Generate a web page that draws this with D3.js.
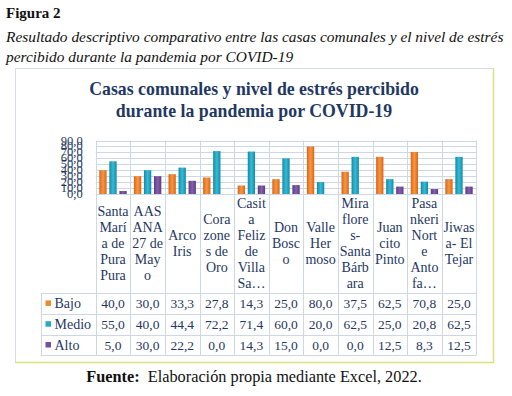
<!DOCTYPE html>
<html>
<head>
<meta charset="utf-8">
<script src="https://cdn.jsdelivr.net/npm/d3@7"></script>
<style>
  body { margin: 0; background: #fff; }
  svg { display: block; }
</style>
</head>
<body>
<div id="chart"></div>
<script>
// ---- data ----
const categories = ['Santa María de Pura Pura', 'AASANA 27 de Mayo', 'Arco Iris', 'Corazones de Oro',
    'Casita Feliz de Villa Sa…', 'Don Bosco', 'Valle Hermoso', 'Miraflores-Santa Bárbara',
    'Juancito Pinto', 'Pasankeri Norte Antofa…', 'Jiwasa- El Tejar']
const categoryLines = [
    ['Santa', 'Marí', 'a de', 'Pura', 'Pura'],
    ['AAS', 'ANA', '27 de', 'May', 'o'],
    ['Arco', 'Iris'],
    ['Cora', 'zone', 's de', 'Oro'],
    ['Casit', 'a', 'Feliz', 'de', 'Villa', 'Sa…'],
    ['Don', 'Bosc', 'o'],
    ['Valle', 'Her', 'moso'],
    ['Mira', 'flore', 's-', 'Santa', 'Bárb', 'ara'],
    ['Juan', 'cito', 'Pinto'],
    ['Pasa', 'nkeri', 'Nort', 'e', 'Anto', 'fa…'],
    ['Jiwas', 'a- El', 'Tejar']
]
const seriesNames = ['Bajo', 'Medio', 'Alto']
const bajo  = [40.0, 30.0, 33.3, 27.8, 14.3, 25.0, 80.0, 37.5, 62.5, 70.8, 25.0]
const medio = [55.0, 40.0, 44.4, 72.2, 71.4, 60.0, 20.0, 62.5, 25.0, 20.8, 62.5]
const alto  = [5.0, 30.0, 22.2, 0.0, 14.3, 15.0, 0.0, 0.0, 12.5, 8.3, 12.5]
const yTicks = [0, 10, 20, 30, 40, 50, 60, 70, 80, 90]

const seriesValues = [bajo, medio, alto]
const seriesColors = [
    { edge: '#d8661c', mid: '#f9963e', key: '#f08a2c' },
    { edge: '#1689a4', mid: '#33bcd8', key: '#26aac6' },
    { edge: '#5c3a84', mid: '#8560ac', key: '#7550a0' }
]

const serif = "'Liberation Serif', 'DejaVu Serif', 'Times New Roman', Times, serif"
const navy = '#1f3864'
const gridColor = '#cdd7e6'
const fmt = (v) => v.toFixed(1).replace('.', ',')

const width = 512, height = 396
const svg = d3.select('#chart').append('svg')
    .attr('width', width)
    .attr('height', height)
    .attr('font-family', serif)
    .style('font-family', serif)

// gradients for the bars
const defs = svg.append('defs')
seriesColors.forEach((c, i) => {
    const g = defs.append('linearGradient')
        .attr('id', 'grad' + i)
        .attr('x1', 0).attr('x2', 1).attr('y1', 0).attr('y2', 0)
    g.append('stop').attr('offset', '0%').attr('stop-color', c.edge)
    g.append('stop').attr('offset', '50%').attr('stop-color', c.mid)
    g.append('stop').attr('offset', '100%').attr('stop-color', c.edge)
})

// figure heading
svg.append('text')
    .text('Figura 2')
    .attr('x', 6).attr('y', 18)
    .style('font-size', '15px')
    .style('font-weight', 'bold')
    .attr('fill', '#111')

const captionLines = ['Resultado descriptivo comparativo entre las casas comunales y el nivel de estrés',
    'percibido durante la pandemia por COVID-19']
svg.selectAll('.caption')
    .data(captionLines)
    .enter()
    .append('text')
    .attr('class', 'caption')
    .text(d => d)
    .attr('x', 6)
    .attr('y', (d, i) => 42 + i * 20)
    .style('font-size', '15.4px')
    .style('font-style', 'italic')
    .attr('fill', '#111')

// chart frame
svg.append('rect')
    .attr('x', 15.5).attr('y', 68.5)
    .attr('width', 478).attr('height', 294)
    .attr('fill', '#fff')
    .attr('stroke', '#d6dbe6')
svg.append('path')
    .attr('d', 'M493.5,68.5 V362.5 H15.5')
    .attr('fill', 'none')
    .attr('stroke', '#d9e27e')
    .attr('stroke-width', 1.5)

// chart title
const titleLines = ['Casas comunales y nivel de estrés percibido', 'durante la pandemia por COVID-19']
svg.selectAll('.ctitle')
    .data(titleLines)
    .enter()
    .append('text')
    .attr('class', 'ctitle')
    .text(d => d)
    .attr('x', 254)
    .attr('y', (d, i) => 95 + i * 21.5)
    .attr('text-anchor', 'middle')
    .style('font-size', '17.8px')
    .style('font-weight', 'bold')
    .attr('fill', navy)

// scales
const plotLeft = 95.7, plotRight = 476.3
const plotTop = 140.5, plotBottom = 194
const xScale = d3.scaleBand()
    .domain(categories)
    .range([plotLeft, plotRight])
    .padding(0)
const colW = xScale.bandwidth()
const innerScale = d3.scaleBand()
    .domain(seriesNames)
    .range([3.6, colW - 3.6])
    .paddingInner(0.27)
const yScale = d3.scaleLinear()
    .domain([0, 90])
    .range([plotBottom, plotTop])

// table geometry
const headerBottom = 293
const rowH = 20.8
const legendLeft = 40.7

// horizontal gridlines
const plot = svg.append('g')
plot.selectAll('.hgrid')
    .data(yTicks)
    .enter()
    .append('line')
    .attr('x1', plotLeft).attr('x2', plotRight)
    .attr('y1', d => Math.round(yScale(d)) + 0.5)
    .attr('y2', d => Math.round(yScale(d)) + 0.5)
    .attr('stroke', gridColor)

// vertical column lines, running through the table
const colEdges = categories.map(c => xScale(c)).concat([plotRight])
plot.selectAll('.vgrid')
    .data(colEdges)
    .enter()
    .append('line')
    .attr('x1', d => Math.round(d) + 0.5).attr('x2', d => Math.round(d) + 0.5)
    .attr('y1', plotTop).attr('y2', headerBottom + rowH * 3)
    .attr('stroke', gridColor)

// table horizontal lines
const rowLines = [0, 1, 2, 3].map(i => headerBottom + i * rowH)
plot.selectAll('.rgrid')
    .data(rowLines)
    .enter()
    .append('line')
    .attr('x1', legendLeft).attr('x2', plotRight)
    .attr('y1', d => Math.round(d) + 0.5).attr('y2', d => Math.round(d) + 0.5)
    .attr('stroke', gridColor)
plot.append('line')
    .attr('x1', Math.round(legendLeft) + 0.5).attr('x2', Math.round(legendLeft) + 0.5)
    .attr('y1', headerBottom).attr('y2', headerBottom + rowH * 3)
    .attr('stroke', gridColor)

// y axis labels (crowded, as in the original)
svg.append('g')
    .selectAll('text')
    .data(yTicks)
    .enter()
    .append('text')
    .text(d => fmt(d))
    .attr('x', 82.7)
    .attr('y', d => yScale(d) + 4)
    .attr('text-anchor', 'end')
    .style('font-size', '12.5px')
    .attr('fill', navy)

// bars
seriesNames.forEach((s, si) => {
    plot.selectAll('.bar' + si)
        .data(seriesValues[si])
        .enter()
        .append('rect')
        .attr('class', 'bar' + si)
        .attr('x', (d, i) => xScale(categories[i]) + innerScale(s))
        .attr('width', innerScale.bandwidth())
        .attr('y', d => yScale(d))
        .attr('height', d => plotBottom - yScale(d))
        .attr('fill', 'url(#grad' + si + ')')
})

// category labels
const catCenter = (plotBottom + headerBottom) / 2
const lineH = 16
categoryLines.forEach((lines, i) => {
    svg.append('g')
        .selectAll('text')
        .data(lines)
        .enter()
        .append('text')
        .text(d => d)
        .attr('x', xScale(categories[i]) + colW / 2)
        .attr('y', (d, j) => catCenter + 4.5 + (j - (lines.length - 1) / 2) * lineH)
        .attr('text-anchor', 'middle')
        .style('font-size', '14px')
        .attr('fill', navy)
})

// data table rows
seriesNames.forEach((s, si) => {
    const yMid = headerBottom + rowH * si + rowH / 2
    svg.append('rect')
        .attr('x', 45.5).attr('y', yMid - 3)
        .attr('width', 5.5).attr('height', 5.5)
        .attr('fill', seriesColors[si].key)
    svg.append('text')
        .text(s)
        .attr('x', 54.5)
        .attr('y', yMid + 4.5)
        .style('font-size', '14px')
        .attr('fill', navy)
    svg.append('g')
        .selectAll('text')
        .data(seriesValues[si])
        .enter()
        .append('text')
        .text(d => fmt(d))
        .attr('x', (d, i) => xScale(categories[i]) + colW / 2)
        .attr('y', yMid + 4.5)
        .attr('text-anchor', 'middle')
        .style('font-size', '13.5px')
        .attr('fill', navy)
})

// source note
const note = svg.append('text')
    .attr('x', 254).attr('y', 382)
    .attr('text-anchor', 'middle')
    .style('font-size', '16.3px')
    .attr('fill', '#111')
note.append('tspan').text('Fuente:').style('font-weight', 'bold')
note.append('tspan').text('\u00a0 Elaboración propia mediante Excel, 2022.')
</script>
</body>
</html>
